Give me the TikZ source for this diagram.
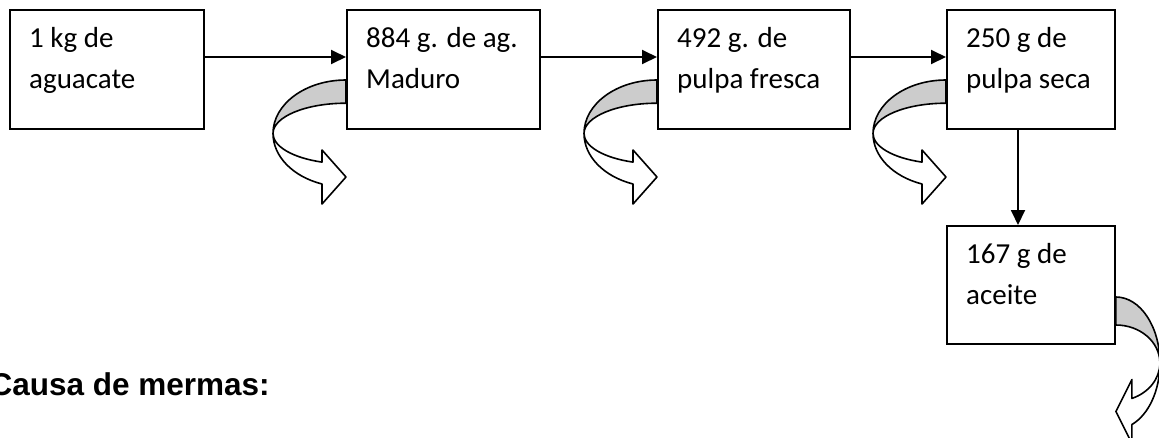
\documentclass[tikz,border=0pt]{standalone}
\usepackage{fontspec}
\setmainfont{Carlito}
\newfontfamily\headfont{Liberation Sans}
\usetikzlibrary{arrows.meta,calc}
\definecolor{bandgray}{RGB}{204,204,204}
\tikzset{
  box/.style={draw=black, line width=1.9pt, rectangle, inner sep=0pt, anchor=north west, minimum height=119pt},
  txt/.style={anchor=base west, align=left, inner sep=0pt, font=\fontsize{29}{41}\selectfont},
  conn/.style={line width=1.9pt, -{Triangle[length=15pt,width=14pt]}},
  curlline/.style={line width=1.6pt, line join=round},
  curlL/.pic={
    \filldraw[curlline, fill=bandgray] (0,53.5pt) arc[start angle=90,end angle=180,x radius=73pt,y radius=53.5pt]
      arc[start angle=180,end angle=90,x radius=73pt,y radius=30.3pt] -- cycle;
    \filldraw[curlline, fill=white] (-73pt,0) arc[start angle=180,end angle=250.8,x radius=73pt,y radius=30.3pt]
      -- (-24pt,-16.5pt) -- (0,-43.5pt) -- (-24pt,-70.5pt) -- (-24pt,-50.5pt)
      arc[start angle=250.8,end angle=180,x radius=73pt,y radius=53.5pt] -- cycle;
  },
  curlR/.pic={
    \filldraw[curlline, fill=bandgray] (0,66pt) arc[start angle=90,end angle=0,x radius=44pt,y radius=66pt]
      arc[start angle=0,end angle=90,x radius=44pt,y radius=38pt] -- cycle;
    \filldraw[curlline, fill=white] (44pt,0) arc[start angle=0,end angle=-68.7,x radius=44pt,y radius=38pt]
      -- (16pt,-16.5pt) -- (0,-48.5pt) -- (16pt,-80.5pt) -- (16pt,-61.5pt)
      arc[start angle=-68.7,end angle=0,x radius=44pt,y radius=66pt] -- cycle;
  }
}
\begin{document}
\begin{tikzpicture}
\useasboundingbox (0,0) rectangle (1159pt,-437pt);
% boxes
\node[box, minimum width=194pt] (b1) at (9pt,-9pt) {};
\node[box, minimum width=193pt] (b2) at (346pt,-9pt) {};
\node[box, minimum width=192pt] (b3) at (657pt,-9pt) {};
\node[box, minimum width=168pt] (b4) at (946pt,-9pt) {};
\node[box, minimum width=168pt, minimum height=118pt] (b5) at (946pt,-225pt) {};
% texts (anchor = baseline of the last line)
\node[txt] (t1) at ($(b1.north west)+(20pt,-79pt)$) {1 kg de\\aguacate};
\node[txt] (t2) at ($(b2.north west)+(20pt,-79pt)$) {884 g. de ag.\\Maduro};
\node[txt] (t3) at ($(b3.north west)+(20pt,-79pt)$) {492 g. de\\pulpa fresca};
\node[txt] (t4) at ($(b4.north west)+(20pt,-79pt)$) {250 g de\\pulpa seca};
\node[txt] (t5) at ($(b5.north west)+(20pt,-79pt)$) {167 g de\\aceite};
% connectors
\draw[conn] ($(b1.north east)+(0,-48pt)$) -- ($(b2.north west)+(0,-48pt)$);
\draw[conn] ($(b2.north east)+(0,-48pt)$) -- ($(b3.north west)+(0,-48pt)$);
\draw[conn] ($(b3.north east)+(0,-48pt)$) -- ($(b4.north west)+(0,-48pt)$);
\draw[conn] ($(b4.south west)+(72pt,0)$) -- ($(b5.north west)+(72pt,0)$);
% curled waste arrows
\pic at ($(b2.north west)+(0,-124.5pt)$) {curlL};
\pic at ($(b3.north west)+(0,-124.5pt)$) {curlL};
\pic at ($(b4.north west)+(0,-124.5pt)$) {curlL};
\pic at ($(b5.north east)+(0,-138pt)$) {curlR};
% heading
\node[anchor=base east, inner sep=0pt, font=\headfont\bfseries\fontsize{31.5}{36}\selectfont] (head) at (270pt,-395pt) {Causa de mermas:};
\end{tikzpicture}
\end{document}
